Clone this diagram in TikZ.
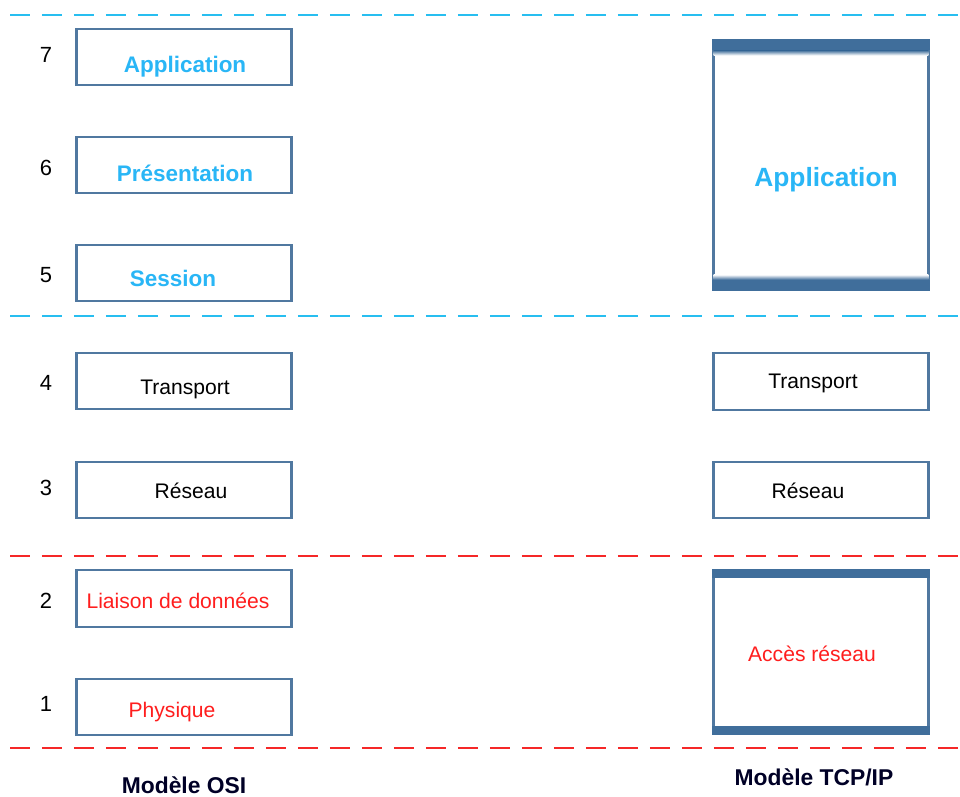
\documentclass[tikz,border=0pt]{standalone}
\usepackage{fontspec}
\setmainfont{Liberation Sans}
\usetikzlibrary{positioning}

\definecolor{layerblue}{RGB}{41,182,246}
\definecolor{layerred}{RGB}{255,30,30}
\definecolor{frameblue}{RGB}{80,120,160}
\definecolor{barblue}{RGB}{64,110,155}
\definecolor{sepblue}{RGB}{40,190,240}
\definecolor{sepred}{RGB}{245,40,40}

\begin{document}
\begin{tikzpicture}[
  x=0.02cm, y=-0.02cm,
  layer/.style={
    rectangle, draw=frameblue, line width=1.3pt, fill=white,
    minimum width=4.3cm, minimum height=1.13cm, inner sep=0pt
  },
  upper/.style={text=layerblue, font=\fontsize{12.8}{15}\selectfont\bfseries},
  lower/.style={text=black, font=\fontsize{12}{14}\selectfont},
  link/.style={text=layerred, font=\fontsize{12}{14}\selectfont},
  num/.style={font=\fontsize{12.5}{15}\selectfont},
  sep/.style={dash pattern=on 0.4cm off 0.24cm, line width=1.1pt},
  caption/.style={font=\fontsize{13}{16}\selectfont\bfseries, text=black!85!blue},
]
  \useasboundingbox (0,0) rectangle (960,796);

  % Separators between the layer groups
  \draw[sep, sepblue] (10,15) -- (960,15);
  \draw[sep, sepblue] (10,316) -- (960,316);
  \draw[sep, sepred] (10,556) -- (960,556);
  \draw[sep, sepred] (10,748) -- (960,748);

  % OSI stack, top to bottom
  \node[layer] (osi7) at (184,57) {};
  \node[layer] (osi6) at (184,165) {};
  \node[layer] (osi5) at (184,273) {};
  \node[layer] (osi4) at (184,381) {};
  \node[layer] (osi3) at (184,490) {};
  \node[layer] (osi2) at (184,598.5) {};
  \node[layer] (osi1) at (184,707) {};

  \node[upper] (osi7txt) at ([shift={(1,10)}]osi7.center) {Application};
  \node[upper] (osi6txt) at ([shift={(1,8)}]osi6.center) {Présentation};
  \node[upper] (osi5txt) at ([shift={(-11,5)}]osi5.center) {Session};
  \node[lower] (osi4txt) at ([shift={(1,8)}]osi4.center) {Transport};
  \node[lower] (osi3txt) at ([shift={(7,1)}]osi3.center) {Réseau};
  \node[link] (osi2txt) at ([shift={(-6,2)}]osi2.center) {Liaison de données};
  \node[link] (osi1txt) at ([shift={(-12,5)}]osi1.center) {Physique};

  % Layer numbers
  \node[num] (n7) at (46,55) {7};
  \node[num] (n6) at (46,168) {6};
  \node[num] (n5) at (46,275) {5};
  \node[num] (n4) at (46,383) {4};
  \node[num] (n3) at (46,488) {3};
  \node[num] (n2) at (46,601) {2};
  \node[num] (n1) at (46,704) {1};

  % TCP/IP stack
  \node[layer, minimum height=4.98cm] (tcpapp) at (821,165) {};
  \node[layer] (tcptrans) at (821,381.5) {};
  \node[layer] (tcpnet) at (821,490) {};
  \node[layer, minimum height=3.26cm] (tcpacc) at (821,652) {};

  % Heavy bars on the merged layers
  \fill[barblue] (tcpapp.north west) rectangle ([yshift=-0.22cm]tcpapp.north east);
  \shade[top color=barblue, bottom color=white]
    ([shift={(0.7pt,-0.22cm)}]tcpapp.north west) rectangle ([shift={(-0.7pt,-0.32cm)}]tcpapp.north east);
  \fill[barblue] (tcpapp.south west) rectangle ([yshift=0.22cm]tcpapp.south east);
  \shade[bottom color=barblue, top color=white]
    ([shift={(0.7pt,0.22cm)}]tcpapp.south west) rectangle ([shift={(-0.7pt,0.32cm)}]tcpapp.south east);
  \fill[barblue] (tcpacc.north west) rectangle ([yshift=-0.18cm]tcpacc.north east);
  \fill[barblue] (tcpacc.south west) rectangle ([yshift=0.18cm]tcpacc.south east);

  \node[upper, font=\fontsize{15}{18}\selectfont\bfseries] (tcpapptxt)
    at ([shift={(5,15)}]tcpapp.center) {Application};
  \node[lower] (tcptranstxt) at ([shift={(-8,1.5)}]tcptrans.center) {Transport};
  \node[lower] (tcpnettxt) at ([shift={(-13,1)}]tcpnet.center) {Réseau};
  \node[link] (tcpacctxt) at ([shift={(-9,2)}]tcpacc.center) {Accès réseau};

  % Captions
  \node[caption] (osilabel) at (184,785) {Modèle OSI};
  \node[caption] (tcplabel) at (814,777) {Modèle TCP/IP};
\end{tikzpicture}
\end{document}
